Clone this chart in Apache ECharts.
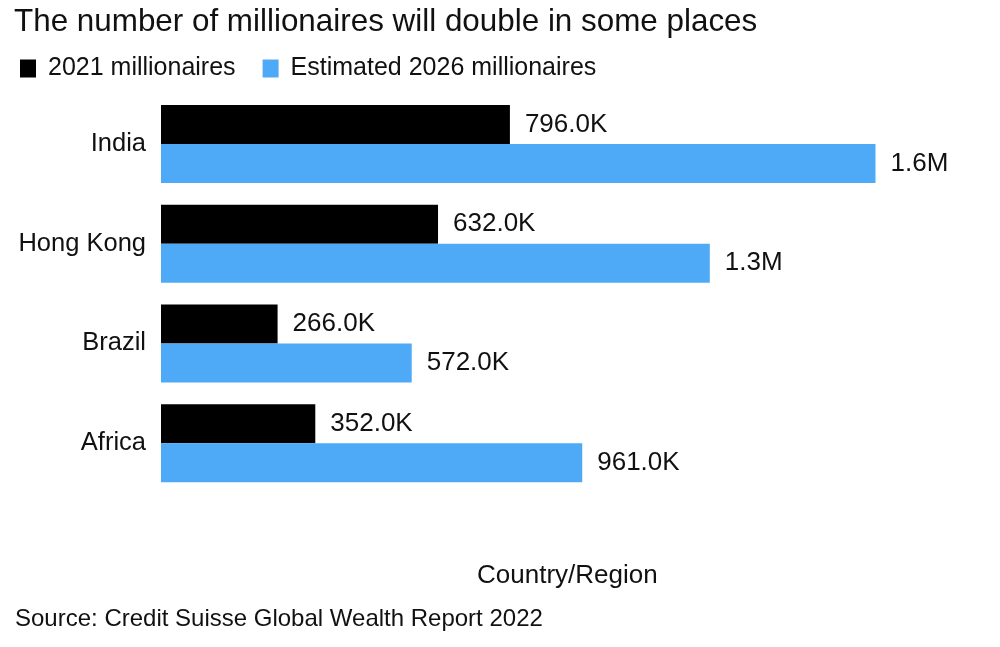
<!DOCTYPE html>
<html>
<head>
<meta charset="utf-8">
<script src="https://cdn.jsdelivr.net/npm/echarts@6/dist/echarts.min.js"></script>
<style>
html,body{margin:0;padding:0;background:#fff;}
#chart{width:1000px;height:647px;}
</style>
</head>
<body>
<div id="chart"></div>
<script>
const categories = ["India", "Hong Kong", "Brazil", "Africa"];
const millionaires2021 = [796, 632, 266, 352];
const millionaires2026 = [1630, 1252, 572, 961];
const seriesNames = ["2021 millionaires", "Estimated 2026 millionaires"];

const FONT = "'Liberation Sans', Arial, Helvetica, sans-serif";
const fmt = v => v >= 1000 ? (v / 1000).toFixed(1) + 'M' : v.toFixed(1) + 'K';

const chart = echarts.init(document.getElementById('chart'), null, {renderer: 'canvas'});
chart.setOption({
  backgroundColor: '#ffffff',
  animation: false,
  textStyle: {fontFamily: FONT},
  legend: {
    left: 20, top: 56, padding: 0,
    icon: 'rect', itemWidth: 16, itemHeight: 18, itemGap: 27,
    textStyle: {fontFamily: FONT, fontSize: 25, color: '#111', padding: [0, 0, 0, 7]},
    data: seriesNames
  },
  grid: {left: 161, top: 94, height: 399, width: 789},
  xAxis: {
    type: 'value', min: 0, max: 1800,
    show: false
  },
  yAxis: {
    type: 'category', data: categories, inverse: true,
    axisLine: {show: false}, axisTick: {show: false},
    axisLabel: {fontFamily: FONT, fontSize: 25.5, color: '#111', margin: 15}
  },
  series: [
    {
      name: seriesNames[0], type: 'bar', data: millionaires2021,
      barWidth: 39, barGap: '0%',
      itemStyle: {color: '#000000'},
      label: {show: true, position: 'right', distance: 15, fontFamily: FONT, fontSize: 26, color: '#111',
        formatter: p => fmt(p.value)}
    },
    {
      name: seriesNames[1], type: 'bar', data: millionaires2026,
      barWidth: 39, barGap: '0%',
      itemStyle: {color: '#4eaaf6'},
      label: {show: true, position: 'right', distance: 15, fontFamily: FONT, fontSize: 26, color: '#111',
        formatter: p => fmt(p.value)}
    }
  ],
  graphic: [
    {type: 'text', left: 14, top: 7, style: {text: 'The number of millionaires will double in some places', font: "31.4px " + FONT, fill: '#111'}},
    {type: 'text', left: 477, top: 563, style: {text: 'Country/Region', font: "26px " + FONT, fill: '#111'}},
    {type: 'text', left: 15, top: 607, style: {text: 'Source: Credit Suisse Global Wealth Report 2022', font: "24px " + FONT, fill: '#111'}}
  ]
});
</script>
</body>
</html>
